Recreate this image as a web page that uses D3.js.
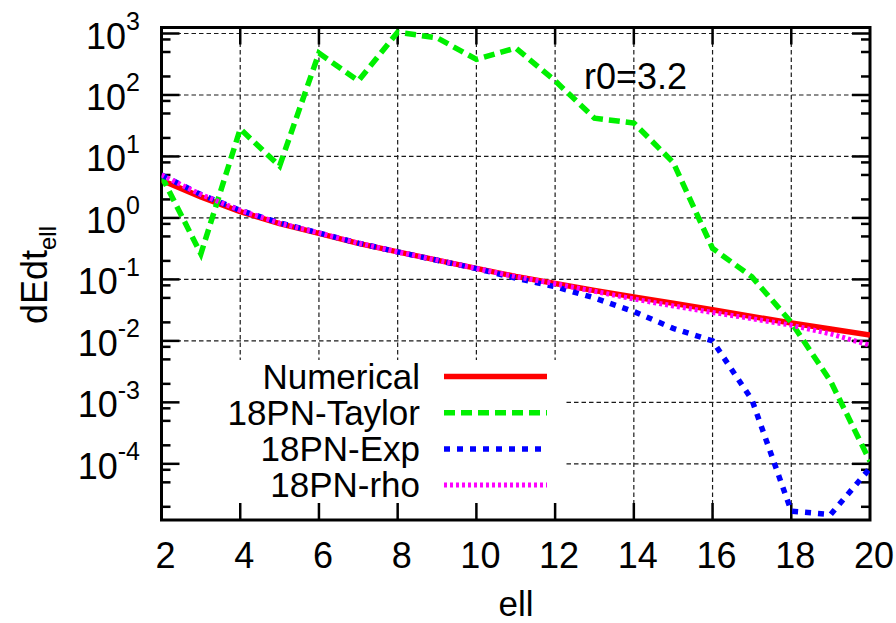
<!DOCTYPE html>
<html>
<head>
<meta charset="utf-8">
<script src="https://cdn.jsdelivr.net/npm/d3@7"></script>
<style>
  body { margin: 0; background: #fff; }
  text { font-family: "Liberation Sans", Arial, sans-serif; fill: #000; }
</style>
</head>
<body>
<div id="chart"></div>
<script>
// data
const ell = [2, 3, 4, 5, 6, 7, 8, 9, 10, 11, 12, 13, 14, 15, 16, 17, 18, 19, 20];
const numerical = [4.1, 2.2, 1.26, 0.81, 0.56, 0.385, 0.28, 0.206, 0.151, 0.112, 0.086, 0.066, 0.052, 0.041, 0.032, 0.025, 0.0195, 0.0156, 0.0124];
const pnTaylor = [4.8, 0.26, 28, 7, 480, 170, 1050, 850, 380, 580, 170, 42, 35, 8, 0.32, 0.11, 0.02, 0.0022, 0.00011];
const pnExp = [5.0, 2.4, 1.33, 0.83, 0.57, 0.39, 0.28, 0.205, 0.15, 0.105, 0.076, 0.05, 0.03, 0.016, 0.01, 0.0011, 0.000017, 0.000015, 0.000085];
const pnRho = [5.0, 2.4, 1.33, 0.82, 0.57, 0.39, 0.28, 0.206, 0.151, 0.111, 0.085, 0.064, 0.048, 0.037, 0.029, 0.023, 0.018, 0.013, 0.0085];
const seriesNames = ["Numerical", "18PN-Taylor", "18PN-Exp", "18PN-rho"];
const xTicks = [2, 4, 6, 8, 10, 12, 14, 16, 18, 20];
const yTickExps = [-4, -3, -2, -1, 0, 1, 2, 3];
const yMinorMantissas = [2, 5, 8];
const yMin = 1.22e-5, yMax = 1252;
const annotation = "r0=3.2";

const W = 896, H = 623;
const plotL = 161.5, plotR = 870, plotT = 27.5, plotB = 520;

const x = d3.scaleLinear().domain([2, 20]).range([plotL, plotR]);
const y = d3.scaleLog().domain([yMin, yMax]).range([plotB, plotT]);

const svg = d3.select("#chart").append("svg")
    .attr("width", W)
    .attr("height", H);

// grid
const grid = svg.append("g")
    .attr("stroke", "#1a1a1a")
    .attr("stroke-width", 1.2)
    .attr("stroke-dasharray", "4.5,3");
grid.selectAll("line.v").data(xTicks.slice(1, -1)).enter().append("line")
    .attr("x1", d => x(d)).attr("x2", d => x(d))
    .attr("y1", plotT).attr("y2", plotB);
grid.selectAll("line.h").data(yTickExps).enter().append("line")
    .attr("x1", plotL).attr("x2", plotR)
    .attr("y1", d => y(Math.pow(10, d))).attr("y2", d => y(Math.pow(10, d)));

// opaque key box
svg.append("rect")
    .attr("x", plotL + 1).attr("y", 360)
    .attr("width", 565 - plotL).attr("height", plotB - 360 - 1)
    .attr("fill", "#fff");

// ticks
const ticks = svg.append("g").attr("stroke", "#000").attr("stroke-width", 2.5);
xTicks.slice(1, -1).forEach(d => {
    ticks.append("line").attr("x1", x(d)).attr("x2", x(d)).attr("y1", plotB).attr("y2", plotB - 17);
    ticks.append("line").attr("x1", x(d)).attr("x2", x(d)).attr("y1", plotT).attr("y2", plotT + 17);
});
yTickExps.forEach(e => {
    const yy = y(Math.pow(10, e));
    ticks.append("line").attr("x1", plotL).attr("x2", plotL + 18).attr("y1", yy).attr("y2", yy);
    ticks.append("line").attr("x1", plotR).attr("x2", plotR - 18).attr("y1", yy).attr("y2", yy);
});
d3.range(-5, 4).forEach(e => {
    yMinorMantissas.forEach(m => {
        const v = m * Math.pow(10, e);
        if (v <= yMin || v >= yMax) return;
        const yy = y(v);
        ticks.append("line").attr("x1", plotL).attr("x2", plotL + 9).attr("y1", yy).attr("y2", yy);
        ticks.append("line").attr("x1", plotR).attr("x2", plotR - 9).attr("y1", yy).attr("y2", yy);
    });
});

// frame
svg.append("rect")
    .attr("x", plotL).attr("y", plotT)
    .attr("width", plotR - plotL).attr("height", plotB - plotT)
    .attr("fill", "none").attr("stroke", "#000").attr("stroke-width", 3);

// tick labels
svg.append("g").selectAll("text").data(xTicks).enter().append("text")
    .attr("x", d => x(d) + 4)
    .attr("y", 568)
    .attr("text-anchor", "middle")
    .attr("font-size", 36)
    .text(d => d);

const yl = svg.append("g").selectAll("text").data(yTickExps).enter().append("text")
    .attr("x", 140)
    .attr("y", d => y(Math.pow(10, d)) + 15)
    .attr("text-anchor", "end")
    .attr("font-size", 36);
yl.append("tspan").text("10");
yl.append("tspan").attr("font-size", 25).attr("dy", -18.5).text(d => d);

// axis titles
svg.append("text")
    .attr("x", 516).attr("y", 616)
    .attr("text-anchor", "middle")
    .attr("font-size", 35)
    .text("ell");

const ylab = svg.append("text")
    .attr("transform", "translate(46.5,275) rotate(-90)")
    .attr("text-anchor", "middle")
    .attr("font-size", 36);
ylab.append("tspan").text("dEdt");
ylab.append("tspan").attr("font-size", 24).attr("dy", 9.5).text("ell");

// series
const styles = {
    "Numerical": { color: "#ff0000", dash: null, width: 5.5 },
    "18PN-Taylor": { color: "#00f000", dash: "11,6", width: 5.5 },
    "18PN-Exp": { color: "#0000ff", dash: "6,7", width: 5.5 },
    "18PN-rho": { color: "#ff00ff", dash: "3,3", width: 5 }
};
const seriesValues = [numerical, pnTaylor, pnExp, pnRho];
const series = seriesNames.map((name, i) => ({
    name: name,
    points: ell.map((l, j) => ({ ell: l, v: seriesValues[i][j] })),
    style: styles[name]
}));

svg.append("clipPath").attr("id", "plotclip")
    .append("rect")
    .attr("x", plotL).attr("y", plotT)
    .attr("width", plotR - plotL).attr("height", plotB - plotT);

const line = d3.line().x(d => x(d.ell)).y(d => y(d.v));

svg.append("g").attr("clip-path", "url(#plotclip)")
    .selectAll("path").data(series).enter().append("path")
    .attr("d", d => line(d.points))
    .attr("fill", "none")
    .attr("stroke", d => d.style.color)
    .attr("stroke-width", d => d.style.width)
    .attr("stroke-dasharray", d => d.style.dash)
    .attr("stroke-linejoin", "miter");

// key
const key = svg.append("g");
series.forEach((s, i) => {
    const cy = 376.5 + i * 36.2;
    key.append("text")
        .attr("x", 420).attr("y", cy + 12)
        .attr("text-anchor", "end")
        .attr("font-size", 35)
        .text(s.name);
    key.append("line")
        .attr("x1", 444).attr("x2", 547)
        .attr("y1", cy).attr("y2", cy)
        .attr("stroke", s.style.color)
        .attr("stroke-width", s.style.width)
        .attr("stroke-dasharray", s.style.dash);
});

svg.append("text")
    .attr("x", 584).attr("y", 89)
    .attr("font-size", 36)
    .text(annotation);
</script>
</body>
</html>
